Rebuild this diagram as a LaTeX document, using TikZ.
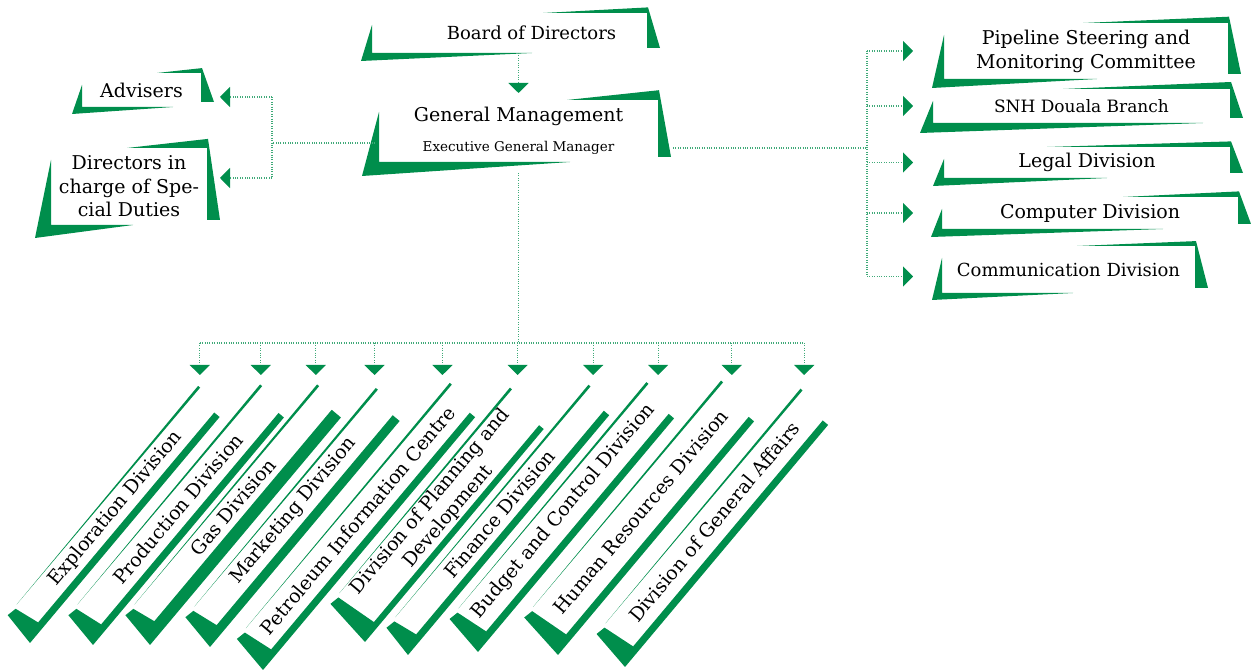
\documentclass[tikz,border=0pt]{standalone}
\usepackage{fontspec}
\setmainfont{DejaVu Serif}
\usetikzlibrary{arrows.meta,calc}

\definecolor{snhgreen}{RGB}{0,142,76}

\tikzset{
  box/.style={inner sep=0pt, outer sep=0pt, align=center, font=\fontsize{19}{24}\selectfont},
  sidebox/.style={box, font=\fontsize{19}{23.5}\selectfont},
  slant/.style={box, transform shape, font=\fontsize{19}{23}\selectfont},
  dotline/.style={snhgreen!75, line width=1.1pt, dash pattern=on 1pt off 1.4pt},
  conn/.style={dotline, -{Triangle[width=20pt,length=10pt,color=snhgreen]}},
}

% green corner pieces round a flat box: #1 node, #2 lower stripe, #3 upper stripe, #4 thickness
\newcommand{\flagframe}[4]{%
  \fill[snhgreen] ($(#1.north west)+(0,-12)$) -- (#1.south west) -- ($(#1.south west)+(#2,0)$)
    -- ($(#1.south west)+(-#4-3,-#4)$) -- cycle;
  \fill[snhgreen] ($(#1.north east)+(-#3,0)$) -- ($(#1.north east)+(1,0.7*#4)$)
    -- ($(#1.south east)+(13,5)$) -- ($(#1.south east)+(0,5)$) -- (#1.north east) -- cycle;}

% tilted box: #1 name, #2 tip of the check, #3 length, #4 height, #5 stripe, #6 text
\newcommand{\slantbox}[6]{%
  \begin{scope}[shift={(#2)}, rotate=50]
    \fill[snhgreen] (0,0) -- (7,#4+#5) -- (17,#4+#5-2) -- (21,#5) -- (21+#3,#5) -- (21+#3,0) -- cycle;
    \fill[snhgreen] (21,#4+#5) -- (31+#3,#4+#5-1.2) -- (31+#3,#4+#5+1.5) -- cycle;
    \node[slant, minimum width=#3pt, minimum height=#4pt] (#1) at (21+#3/2,#5+#4/2) {#6};
  \end{scope}}

\begin{document}
\begin{tikzpicture}[x=1pt,y=1pt]
\useasboundingbox (0,0) rectangle (1251,672);

% management
\node[box, font=\fontsize{18}{22}\selectfont, minimum width=275pt, minimum height=40pt] (board) at (509.5,639) {\hspace*{44pt}Board of Directors};
\node[box, font=\fontsize{19}{30}\selectfont, minimum width=279pt, minimum height=62pt] (gm) at (518.5,541)
  {General Management\\{\fontsize{13.5}{16}\selectfont Executive General Manager}};
\flagframe{board}{160}{104}{8}
\flagframe{gm}{191}{91}{14}

% left
\node[sidebox, minimum width=119pt, minimum height=34pt] (adv) at (141.5,582) {Advisers};
\node[sidebox, minimum width=156pt, minimum height=77pt] (dir) at (129,485.5) {Directors in\\charge of Spe-\\cial Duties};
\flagframe{adv}{91}{44}{7}
\flagframe{dir}{82}{80}{13}

% right
\node[box, minimum width=284pt, minimum height=56pt] (pipe) at (1086,621) {Pipeline Steering and\\Monitoring Committee};
\node[box, font=\fontsize{17}{22}\selectfont, minimum width=297pt, minimum height=34pt] (snh) at (1081.5,566) {SNH Douala Branch};
\node[box, minimum width=286pt, minimum height=31pt] (legal) at (1087,509.5) {Legal Division};
\node[box, minimum width=296pt, minimum height=32pt] (comp) at (1090,459) {Computer Division};
\node[box, font=\fontsize{18}{22}\selectfont, minimum width=253pt, minimum height=47pt] (comm) at (1068.5,402.5) {Communication Division};
\flagframe{pipe}{153}{145}{9}
\flagframe{snh}{270}{167}{10}
\flagframe{legal}{163}{183}{8}
\flagframe{comp}{221}{115}{8}
\flagframe{comm}{131}{118}{7}

% divisions
\slantbox{expl}{30,29}{274}{28}{7}{Exploration Division}
\slantbox{prod}{93,27}{276}{31}{7}{Production Division}
\slantbox{gas}{150,27}{276}{26}{12}{Gas Division}
\slantbox{mark}{210,25}{274}{29}{9}{Marketing Division}
\slantbox{petr}{263,2}{309}{33}{7}{Petroleum Information Centre}
\slantbox{plan}{365,30}{257}{45}{6}{Division of Planning and\\Development}
\slantbox{fin}{408,17}{292}{27}{7}{Finance Division}
\slantbox{budg}{478,20}{284}{36}{7}{Budget and Control Division}
\slantbox{hum}{558,17}{284}{43}{7}{Human Resources Division}
\slantbox{gen}{625,5}{295}{36}{7}{Division of General Affairs}

% links
\coordinate (lj) at (272,529);
\coordinate (lt) at (220,529);
\coordinate (rj) at (867,524);
\coordinate (rt) at (913,524);
\coordinate (bus) at (517,329);
\coordinate (tips) at (517,297);

\draw[conn, shorten >=7pt] (board.south -| gm.north) -- (gm.north);

\draw[dotline] ([xshift=-4pt]gm.west |- lj) -- (lj);
\draw[dotline] ([yshift=-7pt]lj |- adv.east) -- ([yshift=8.5pt]lj |- dir.east);
\draw[conn] ([yshift=-7pt]lj |- adv.east) -- ([yshift=-7pt]lt |- adv.east);
\draw[conn] ([yshift=8.5pt]lj |- dir.east) -- ([yshift=8.5pt]lt |- dir.east);

\draw[dotline] ([xshift=15pt]gm.east |- rj) -- (rj);
\draw[dotline] (rj |- pipe.west) -- ([yshift=-7pt]rj |- comm.west);
\foreach \n in {pipe,snh,legal,comp}
  \draw[conn] (rj |- \n.west) -- (rt |- \n.west);
\draw[conn] ([yshift=-7pt]rj |- comm.west) -- ([yshift=-7pt]rt |- comm.west);

\draw[dotline] ([yshift=-11pt]gm.south) -- (gm.south |- bus);
\draw[dotline] ([xshift=7pt]bus -| expl.north east) -- ([xshift=9pt]bus -| gen.north east);
\foreach \n/\d in {expl/7,prod/6,gas/4,mark/4,petr/-2,plan/13,fin/10,budg/17,hum/16,gen/9}
  \draw[conn] ([xshift=\d pt]bus -| \n.north east) -- ([xshift=\d pt]tips -| \n.north east);

\end{tikzpicture}
\end{document}
